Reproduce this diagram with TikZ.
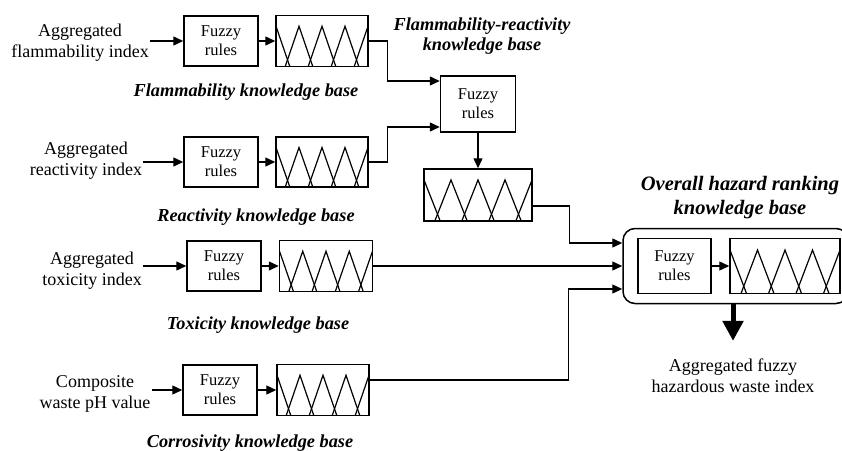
\documentclass[tikz,border=0pt]{standalone}
\usepackage{fontspec}
\setmainfont{Liberation Serif}
\usetikzlibrary{positioning,arrows.meta,calc}

\begin{document}
\begin{tikzpicture}[
      x=1pt, y=-1pt,
      rulebox/.style={draw, line width=1.5pt, minimum width=74pt,
                  minimum height=50pt, align=center, inner sep=2pt,
                  font=\fontsize{16.5}{19}\selectfont},
      mfbox/.style={draw, line width=1.5pt, minimum width=92pt,
                  minimum height=51pt, inner sep=0pt,
                  path picture={
                    \foreach \k in {0,0.25,0.5,0.75,1}
                      \draw[line width=1.2pt]
                        let \p1=(path picture bounding box.south west),
                            \p2=(path picture bounding box.north east),
                            \n1={\x2-\x1}, \n2={\y2-\y1} in
                        ({\x1+(\k-0.15)*\n1},\y1) -- ({\x1+\k*\n1},{\y1+0.79*\n2})
                        -- ({\x1+(\k+0.15)*\n1},\y1);
                  }},
      intext/.style={align=center, inner sep=1pt,
                  font=\fontsize{18}{21}\selectfont},
      kblabel/.style={align=center, inner sep=1pt,
                  font=\fontsize{18.3}{20}\selectfont\bfseries\itshape},
      darrow/.style={-{Triangle[length=10pt,width=9pt]}, line width=1.4pt},
      bigarrow/.style={-{Triangle[length=20pt,width=20pt]}, line width=5pt},
    ]
      \useasboundingbox (0,0) rectangle (842,450);
      \clip (0,0) rectangle (842,450);

      \node[intext] (in1) at (80,43) {Aggregated\\flammability index};
      \node[rulebox] (fr1) at (221,41) {Fuzzy\\rules};
      \node[mfbox] (mf1) at (322,41) {};
      \node[kblabel] (kb1) at (246,92) {Flammability knowledge base};

      \node[intext] (in2) at (86,161) {Aggregated\\reactivity index};
      \node[rulebox] (fr2) at (221,162) {Fuzzy\\rules};
      \node[mfbox, minimum height=50pt] (mf2) at (322,162) {};
      \node[kblabel] (kb2) at (256,217) {Reactivity knowledge base};

      \node[intext] (in3) at (92,271) {Aggregated\\toxicity index};
      \node[rulebox] (fr3) at (224,266) {Fuzzy\\rules};
      \node[mfbox, minimum width=93pt] (mf3) at (326,266) {};
      \node[kblabel] (kb3) at (258,325) {Toxicity knowledge base};

      \node[intext] (in4) at (95,394) {Composite\\waste pH value};
      \node[rulebox] (fr4) at (220,390) {Fuzzy\\rules};
      \node[mfbox] (mf4) at (323,390) {};
      \node[kblabel] (kb4) at (250,443) {Corrosivity knowledge base};

      \node[rulebox, minimum width=75pt, minimum height=56pt] (frm) at (478,104) {Fuzzy\\rules};
      \node[mfbox, minimum width=108pt, minimum height=52pt] (mfm) at (478,195) {};
      \node[kblabel] (kbm) at (482,36) {Flammability-reactivity\\knowledge base};

      \node[draw, line width=1.5pt, rounded corners=12pt,
            minimum width=225pt, minimum height=75pt] (hz) at (735.5,266) {};
      \node[rulebox, minimum width=73pt, minimum height=55pt] (frh) at (674.5,266) {Fuzzy\\rules};
      \node[mfbox, minimum width=110pt, minimum height=55pt] (mfh) at (785,266) {};
      \node[kblabel, font=\fontsize{20.5}{24}\selectfont\bfseries\itshape] (kbh) at (740,198)
            {Overall hazard ranking\\knowledge base};
      \node[intext] (out) at (733,376) {Aggregated fuzzy\\hazardous waste index};

      \coordinate (frmIn1) at ($(frm.west)+(0,-23)$);
      \coordinate (frmIn2) at ($(frm.west)+(0,23)$);
      \coordinate (hzIn1) at ($(hz.west)+(0,-23)$);
      \coordinate (hzIn3) at ($(hz.west)+(0,23)$);
      \coordinate (mfmOut) at ($(mfm.east)+(0,11)$);
      \coordinate (mf4Out) at ($(mf4.east)+(0,-10)$);

      \draw[darrow] (in1.east |- fr1.west) -- (fr1.west);
      \draw[darrow] (fr1.east) -- (mf1.west);
      \draw[darrow] (in2.east |- fr2.west) -- (fr2.west);
      \draw[darrow] (fr2.east) -- (mf2.west);
      \draw[darrow] (in3.east |- fr3.west) -- (fr3.west);
      \draw[darrow] (fr3.east) -- (mf3.west);
      \draw[darrow] (in4.east |- fr4.west) -- (fr4.west);
      \draw[darrow] (fr4.east) -- (mf4.west);

      \draw[darrow] (mf1.east) -- ++(19,0) |- (frmIn1);
      \draw[darrow] (mf2.east) -- ++(19,0) |- (frmIn2);
      \draw[darrow] (frm.south) -- (mfm.north);
      \draw[darrow] (mfmOut) -- ++(37,0) |- (hzIn1);
      \draw[darrow] (mf3.east) -- (mf3.east -| hz.west);
      \draw[darrow] (mf4Out) -| ($(hzIn3)+(-54,0)$) -- (hzIn3);
      \draw[darrow] (frh.east) -- (mfh.west);
      \draw[bigarrow] (hz.south -| out.north) -- ([yshift=17pt]out.north);
    \end{tikzpicture}
\end{document}
